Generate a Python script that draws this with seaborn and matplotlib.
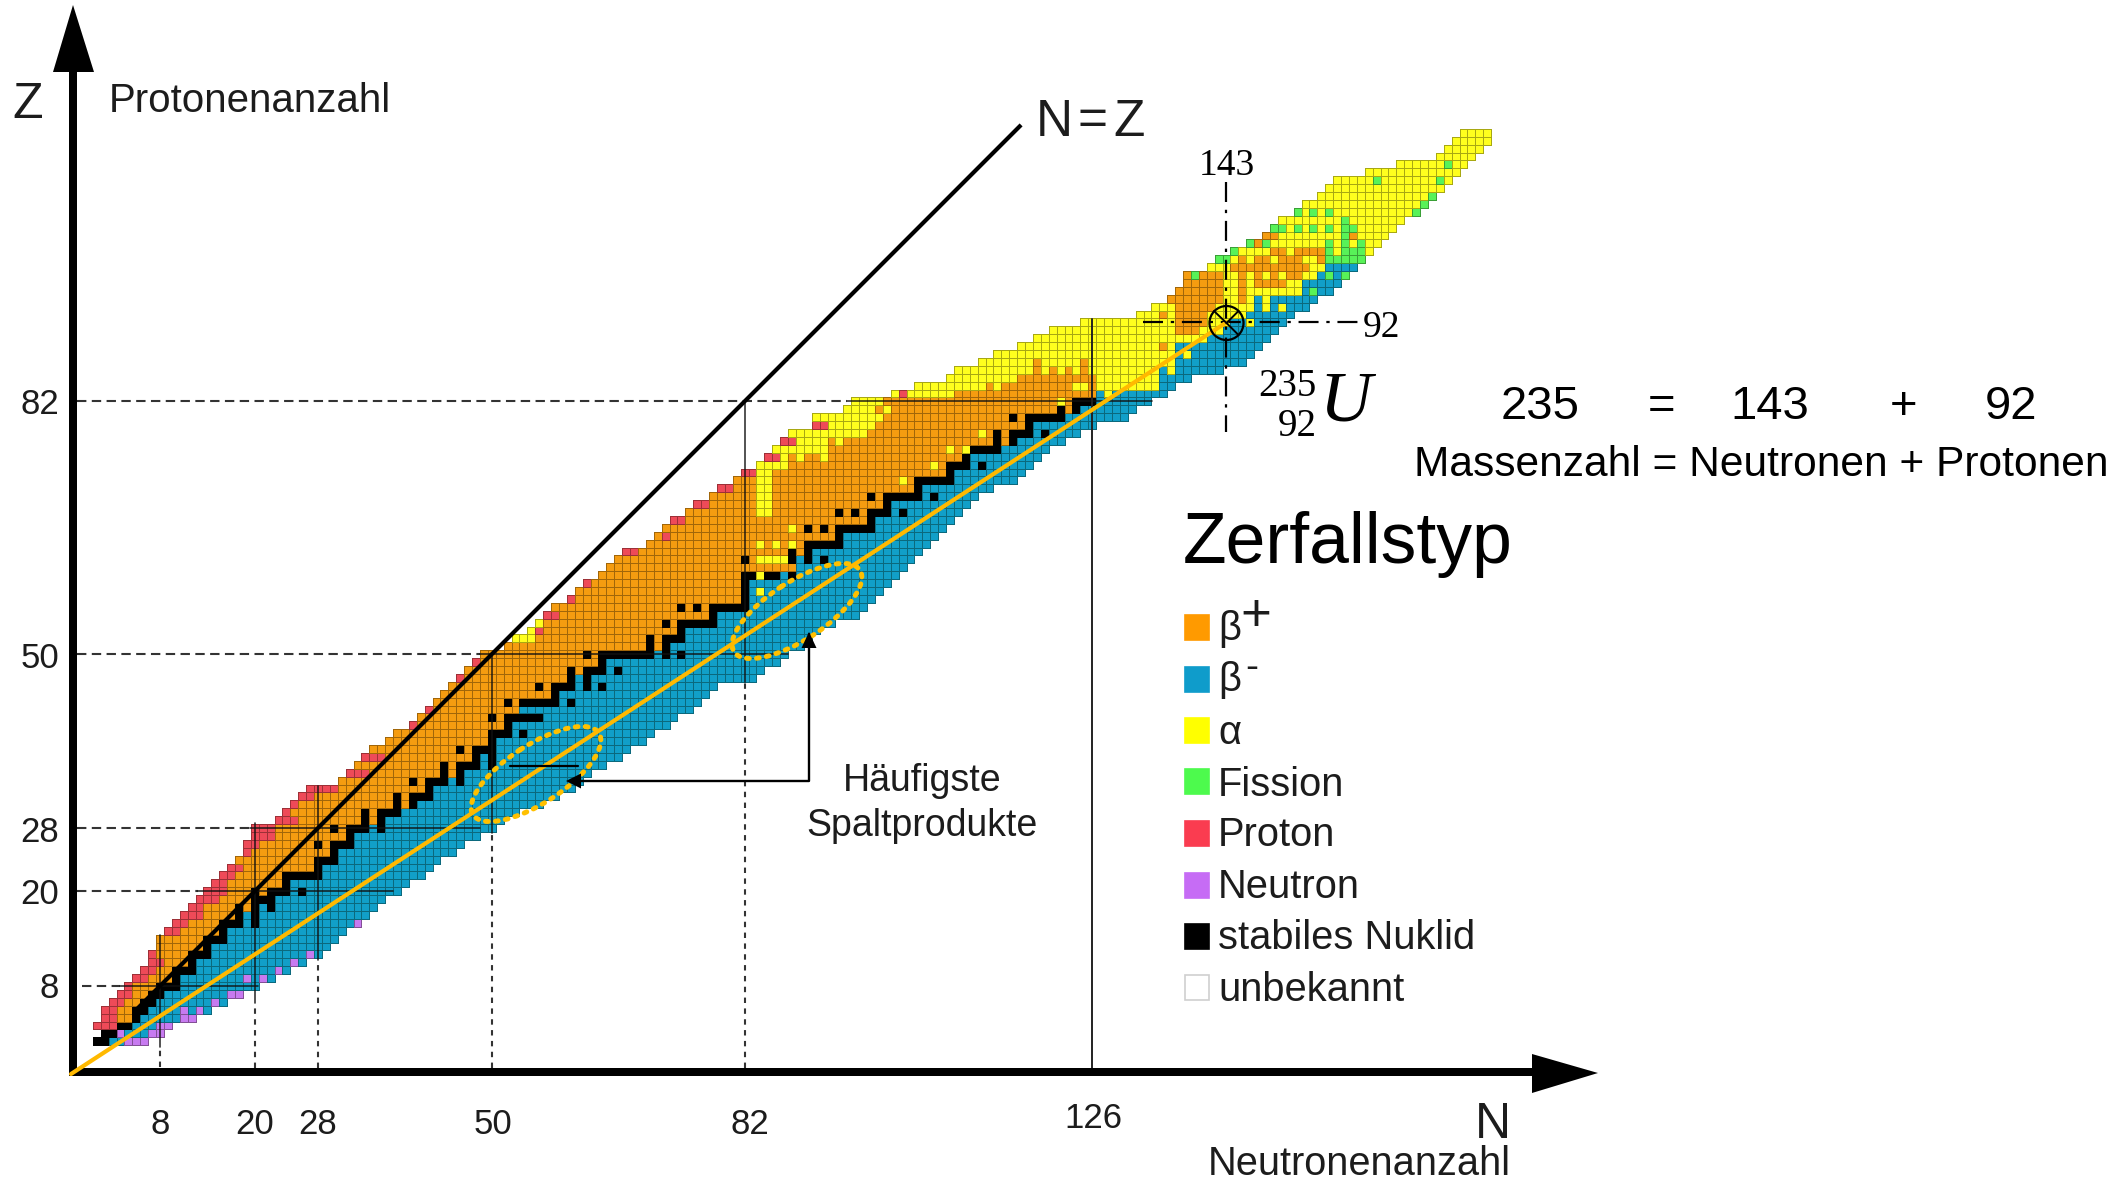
import numpy as np
import pandas as pd
import seaborn as sns
import matplotlib
matplotlib.use("Agg")
import matplotlib.pyplot as plt
from matplotlib.colors import ListedColormap, to_rgba
from matplotlib.patches import Polygon, Rectangle, Ellipse, Circle

# ---------- data: one entry per proton number Z = 1..116 ----------
N_FIRST = [0,1,0,1,1,2,3,4,5,6,7,7,8,8,9,10,11,12,13,14,15,16,17,18,19,19,20,20,23,24,
           25,26,27,31,32,33,34,35,37,38,40,41,42,43,44,45,46,47,48,49,52,53,55,56,57,58,60,61,62,64,
           65,66,67,70,71,72,73,75,76,78,79,81,82,84,85,86,87,88,91,91,95,96,101,104,108,109,112,114,117,119,
           121,125,132,134,136,137,138,139,141,142,144,146,148,149,150,152,153,155,156,157,161,165,170,171,172,173]
N_LAST = [6,8,9,12,14,16,18,20,22,24,26,28,29,30,31,33,34,35,36,38,39,41,42,43,45,46,48,50,51,53,
          56,58,60,61,62,64,66,67,69,70,72,73,75,76,77,78,83,84,86,87,89,90,91,93,96,97,98,99,100,101,
          102,103,104,105,106,107,108,109,110,111,113,116,117,118,119,120,122,124,126,130,131,133,135,136,138,142,145,146,147,148,
          149,150,151,153,154,156,157,158,159,160,161,162,163,164,165,167,168,169,170,171,172,173,174,175,176,176]
# first neutron number of each row that decays by beta-minus
N_BETA_MINUS = [2,3,5,6,7,8,9,11,11,13,13,15,15,17,17,19,19,21,23,25,25,29,29,31,31,33,33,35,37,39,
                41,43,43,45,47,49,49,51,51,53,53,57,54,59,59,61,61,65,65,71,73,75,75,79,79,83,83,83,83,87,
                89,89,91,95,95,99,99,101,101,105,105,109,109,111,111,115,117,119,119,123,125,127,127,135,135,135,137,137,137,141,
                143,144,146,147,147,153,153,155,156,161,162,163,164,165,166,168,169,170,171,172,173,174,175,176,177,177]

STABLE = {1:[0,1],2:[1,2],3:[3,4],4:[5],5:[5,6],6:[6,7],7:[7,8],8:[8,9,10],9:[10],10:[10,11,12],
          11:[12],12:[12,13,14],13:[14],14:[14,15,16],15:[16],16:[16,17,18,20],17:[18,20],18:[18,20,22],
          19:[20,21,22],20:[20,22,23,24,26],21:[24],22:[24,25,26,27,28],23:[28],24:[28,29,30],25:[30],
          26:[28,30,31,32],27:[32],28:[30,32,33,34,36],29:[34,36],30:[34,36,37,38],31:[38,40],
          32:[38,40,41,42],33:[42],34:[40,42,43,44,46],35:[44,46],36:[44,46,47,48,50],37:[48,50],
          38:[46,48,49,50],39:[50],40:[50,51,52,54],41:[52],42:[50,52,53,54,55,56],44:[52,54,55,56,57,58,60],
          45:[58],46:[56,58,59,60,62,64],47:[60,62],48:[60,62,63,64,66],49:[64],
          50:[62,64,65,66,67,68,69,70,72,74],51:[70,72],52:[70,72,73,74],53:[74],54:[72,74,75,76,77,78],
          55:[78],56:[74,76,78,79,80,81,82],57:[82],58:[82],59:[82],60:[82,83,85,86,88],62:[82,88,90,92],
          63:[88,90],64:[90,91,92,93,94],65:[94],66:[90,92,94,95,96,97,98],67:[98],68:[94,96,98,99,100,102],
          69:[100],70:[98,100,101,102,103,104,106],71:[104],72:[104,105,106,107,108],73:[108],
          74:[108,109,110,112],75:[110],76:[111,112,113,114],77:[114,116],78:[114,116,117,118,120],
          79:[118],80:[116,118,119,120,121,122],81:[122,124],82:[124,125,126]}
PROTON = {3:[0,1,2],4:[1,2],5:[1,2],6:[2,3],7:[3,4],8:[4],9:[5,6],10:[6,7],11:[7,8],12:[7],15:[9,10],
          16:[10,11],17:[11,12,13],18:[12,13],19:[13,14,15],20:[14,15,16],21:[15,16],22:[16,17],23:[17,18],
          25:[19],26:[19,20],27:[20,21,22],28:[20,21,22],29:[23,24,25],30:[24],31:[25],32:[26,27],
          33:[27,28,29,30],35:[32,33,34],37:[34,35,36],41:[40],43:[42],47:[46],49:[48],53:[56],55:[57,58],
          57:[60],59:[62],63:[67,68],65:[72],67:[73,74],69:[76,77],71:[79,80],73:[82,83],75:[85,86],
          77:[87,88],79:[91,92],83:[102]}
NEUTRON = {1:[4,5,6],2:[3,7,8],3:[8,9],4:[11,12],5:[11,13],6:[15],7:[17,18],9:[19,21],10:[23],11:[25],
           12:[27],16:[33]}
ALPHA = {52:[53,54,55],53:[55],54:[56],58:[84],60:[84],62:[84,85,86,87],64:[84,86,88],66:[88],
         68:[84,85],69:[84,85],70:[84,85],71:[84,85],72:[84,85,102],73:[84,85],74:[84,85,86,87,106],
         75:[87,89,92],76:[86,87,88,89,90,91,92,108,110],77:[89,90,91,92,94],
         78:[88,89,90,91,92,93,94,95,96,97,112],79:[93,94,95,96,97,98],
         80:[91,92,93,94,95,96,97,98,99],81:[95,96,97,98,100],82:[96,97,98,99,122],
         83:[128],86:[136],88:[138],92:[146],94:[148,150],95:[148]}
ORANGE_UPPER = {83:[109,110,111,112,113,114,115,116,117,118,119,120,121,122,123,124,125,126],
                84:[113,115,116,117,118,119,120,121,122,123,126],
                85:[117,118,119,120,121,122,123,124,125,126],86:[119,121,123,125],87:[119,125],
                89:[135],91:[137,138,139],92:[137,138,139,140],93:[135,137,138,139,140],
                94:[137,138,139,140,141],95:[136,137,138,139,140,141,142,145],
                96:[137,138,139,140,141,142,145],97:[138,139,140,141,142,145,147,148,149,150],
                98:[138,139,140,141,142,145,147,149,151,152],
                99:[144,145,146,147,148,149,150,151,152,153],100:[145,147,148,150,151,152,155],
                101:[149,150,152,153,154,155],102:[147],103:[148,149,159]}
FISSION = {96:[154],98:[139,156,158],100:[142,143,156,157,158,159,160],101:[144,156,158,159,160],
           102:[146,148,156,158,160],103:[158],104:[149,150,152,154,156,158,159],105:[158],
           106:[152,154,156,167],107:[168],108:[169],110:[162,170],112:[171]}

DECAY_NAMES = ["β+", "β-", "α", "Fission", "Proton", "Neutron", "stabiles Nuklid", "unbekannt"]
DECAY_COLORS = ["#F59C10", "#119FC8", "#FFFF1E", "#58F258", "#EE4A58", "#C77AF0", "#000000", "#FFFFFF"]
LEGEND_COLORS = ["#FF9A00", "#0F9CCB", "#FFFF00", "#4DFA4D", "#FA3C50", "#C66CF5", "#000000", "#FFFFFF"]

MAGIC_N = [8, 20, 28, 50, 82, 126]
MAGIC_Z = [8, 20, 28, 50, 82]
URANIUM = (143, 92)

# ---------- build the table ----------
zs = list(range(0, 117))
ns = list(range(0, 178))
grid = pd.DataFrame(np.nan, index=zs, columns=ns, dtype=float)
for i, z in enumerate(range(1, 117)):
    base = 0 if z < 83 else 2
    for n in range(N_FIRST[i], N_LAST[i] + 1):
        grid.at[z, n] = 1 if n >= N_BETA_MINUS[i] else base
for code, table in [(0, ORANGE_UPPER), (2, ALPHA), (3, FISSION), (4, PROTON), (5, NEUTRON), (6, STABLE)]:
    for z, cells in table.items():
        for n in cells:
            grid.at[z, n] = code

# ---------- figure ----------
sns.set_theme(style="white")
plt.rcParams["font.family"] = ["Liberation Sans", "DejaVu Sans"]
W, H = 2126, 1185
fig = plt.figure(figsize=(W / 100, H / 100), dpi=100, facecolor="white")
ax = fig.add_axes([0, 0, 1, 1])
sns.heatmap(grid, ax=ax, cmap=ListedColormap(DECAY_COLORS[:7]), vmin=-0.5, vmax=6.5, cbar=False,
            xticklabels=False, yticklabels=False, linewidths=0.7, linecolor="black")
mesh = ax.collections[0]
edge = np.zeros((grid.size, 4))
vals = grid.values.ravel()
for k, v in enumerate(vals):
    if not np.isnan(v):
        r, g, b, _ = to_rgba(DECAY_COLORS[int(v)])
        edge[k] = (r * 0.45, g * 0.45, b * 0.4, 0.62)
mesh.set_edgecolor(edge)
mesh.set_linewidth(0.7)
mesh.set_antialiased(True)

# pixel scale: one nuclide = 7.9 px, N=8 at x=160, Z=8 at y=986 (cell centres)
PITCH = 7.9
ax.set_xlim(8.5 - 160 / PITCH, 8.5 + (W - 160) / PITCH)
ax.set_ylim(8.5 - (H - 986) / PITCH, 8.5 + 986 / PITCH)
ax.set_xlabel(""); ax.set_ylabel("")
ax.set_axis_off()

def cx(n):
    return n + 0.5

def px_n(x):
    return 8 + (x - 160) / PITCH

def px_z(y):
    return 8 + (986 - y) / PITCH

# magic-number guide lines (dashed from the axis, solid over the chart)
H_RUNS = {8: (82, 120, 258), 20: (77, 198, 393), 28: (77, 250, 480), 50: (77, 480, 788), 82: (77, 847, 1152)}
V_RUNS = {8: (1067, 1047, 935), 20: (1068, 1003, 823), 28: (1068, 960, 786), 50: (1068, 833, 654), 82: (1068, 682, 400)}
for z in MAGIC_Z:
    a, b, c = H_RUNS[z]
    ax.plot([px_n(a) + .5, px_n(b) + .5], [cx(z)] * 2, color="#333333", lw=1.5, ls=(0, (4.5, 2.6)), zorder=3)
    ax.plot([px_n(b) + .5, px_n(c) + .5], [cx(z)] * 2, color="#111111", lw=1.2, alpha=.85, zorder=3)
for n in MAGIC_N[:5]:
    a, b, c = V_RUNS[n]
    ax.plot([cx(n)] * 2, [px_z(a) + .5, px_z(b) + .5], color="#333333", lw=1.5, ls=(0, (2.6, 2.6)), zorder=3)
    ax.plot([cx(n)] * 2, [px_z(b) + .5, px_z(c) + .5], color="#111111", lw=1.2, alpha=.85, zorder=3)
ax.plot([cx(126)] * 2, [px_z(1070) + .5, px_z(319) + .5], color="#222222", lw=1.4, zorder=3)

# N = Z line
ax.plot([cx(5), cx(117)], [cx(5), cx(117)], color="black", lw=3.0, zorder=4, solid_capstyle="butt")

# overlay in pixel coordinates for labels, arrows, legend
ov = fig.add_axes([0, 0, 1, 1], facecolor="none")
ov.set_xlim(0, W); ov.set_ylim(H, 0); ov.set_axis_off()

# main axes arrows
ov.add_patch(Rectangle((69, 68), 7.5, 1008, color="black", lw=0, zorder=6))
ov.add_patch(Rectangle((71, 1068), 1465, 8, color="black", lw=0, zorder=6))
ov.add_patch(Polygon([[73, 5], [53, 72], [94, 72]], closed=True, color="black", lw=0, zorder=6))
ov.add_patch(Polygon([[1598, 1073], [1532, 1054], [1532, 1093]], closed=True, color="black", lw=0, zorder=6))

# line from the origin to U-235
ov.plot([71, 160 + (URANIUM[0] - 8) * PITCH], [1074, 986 - (URANIUM[1] - 8) * PITCH],
        color="#FFB900", lw=3.0, zorder=6.5)

TXT = "#1c1c1c"
def T(x, y, s, size, ha="center", va="center", **kw):
    kw.setdefault("color", TXT)
    return ov.text(x, y + 3, s, fontsize=size, ha=ha, va=va, zorder=7, **kw)

T(28, 102, "Z", 36)
T(109, 98, "Protonenanzahl", 29, ha="left")
T(1054, 120, "N", 37)
T(1092, 118, "=", 37)
T(1129, 120, "Z", 37)
T(1493, 1122, "N", 36)
T(1359, 1161, "Neutronenanzahl", 28.6)
for n, x in zip(MAGIC_N[:5], [160, 255, 318, 493, 750]):
    T(x, 1122, str(n), 25)
T(1093, 1115, "126", 25)
for z, y in zip(MAGIC_Z, [985, 892, 829, 655, 402]):
    T(59, y, str(z), 25, ha="right")

# U-235 marker
SERIF = ["Liberation Serif", "DejaVu Serif"]
T(1227, 163, "143", 27, family=SERIF, color="black")
T(1381, 325, "92", 27, family=SERIF, color="black")
T(1317, 384, "235", 28, ha="right", family=SERIF, color="black")
T(1317, 423, "92", 28, ha="right", family=SERIF, color="black")
T(1345, 400, "U", 52, family=SERIF, style="italic", color="black")
ax.plot([cx(URANIUM[0])] * 2, [px_z(182) + .5, px_z(432) + .5], color="black", lw=1.6, ls=(0, (9, 3.5, 1.5, 3.5)), zorder=6)
ax.plot([px_n(1143) + .5, px_n(1360) + .5], [cx(URANIUM[1])] * 2, color="black", lw=1.6, ls=(0, (9, 3.5, 1.5, 3.5)), zorder=6)
ov.add_patch(Circle((1226.5, 323), 17, fc="none", ec="black", lw=1.6, zorder=7))
ov.plot([1214, 1226.5], [311, 323], color="black", lw=1.4, zorder=7)
ov.plot([1226.5, 1238.5], [323, 335], color="black", lw=1.4, zorder=7)
ov.plot([1226.5, 1238.5], [323, 311], color="black", lw=1.4, zorder=7)

# equation
for x, s in zip([1540, 1662, 1770, 1904, 2011], ["235", "=", "143", "+", "92"]):
    T(x, 404, s, 34, color="black")
T(1414, 462, "Massenzahl = Neutronen + Protonen", 30.6, ha="left", color="black")

# fission product ellipses
for (ex, ey, ew, eh) in [(536, 774, 150, 58), (797, 611, 150, 58)]:
    ov.add_patch(Ellipse((ex, ey), ew, eh, angle=-33, fc="none", ec="#FFC000", lw=3.6,
                         ls=(0, (0.55, 1.45)), capstyle="round", zorder=6))

# annotation arrows
ov.plot([510, 578], [766, 766], color="black", lw=1.6, zorder=7)
ov.plot([809, 809, 580], [634, 781, 781], color="black", lw=1.7, zorder=7)
ov.add_patch(Polygon([[809, 632], [801.5, 648], [816.5, 648]], closed=True, color="black", lw=0, zorder=7))
ov.add_patch(Polygon([[566, 781], [581, 773.5], [581, 788.5]], closed=True, color="black", lw=0, zorder=7))
T(922, 778, "Häufigste", 27)
T(922, 823, "Spaltprodukte", 27)

# legend
T(1183, 542, "Zerfallstyp", 51.5, ha="left", color="black")
ys = [627, 679, 730, 781, 833, 885, 936, 987]
baselines = [640, 691, 743.5, 796, 846, 897.5, 949, 1001]
labels = ["β", "β", "α", "Fission", "Proton", "Neutron", "stabiles Nuklid", "unbekannt"]
for name, col, y, b, lab in zip(DECAY_NAMES, LEGEND_COLORS, ys, baselines, labels):
    ec = "#CFCFCF" if col == "#FFFFFF" else col
    ov.add_patch(Rectangle((1184.5, y - 12), 24.5, 24.5, fc=col, ec=ec, lw=1.2, zorder=6))
    ov.text(1218, b, lab, fontsize=28.7, ha="left", va="baseline", color=TXT, zorder=7)
T(1256, 614, "+", 38, color=TXT)
T(1252, 665, "-", 28, color=TXT)

fig.savefig("out.png", dpi=100, facecolor="white")
